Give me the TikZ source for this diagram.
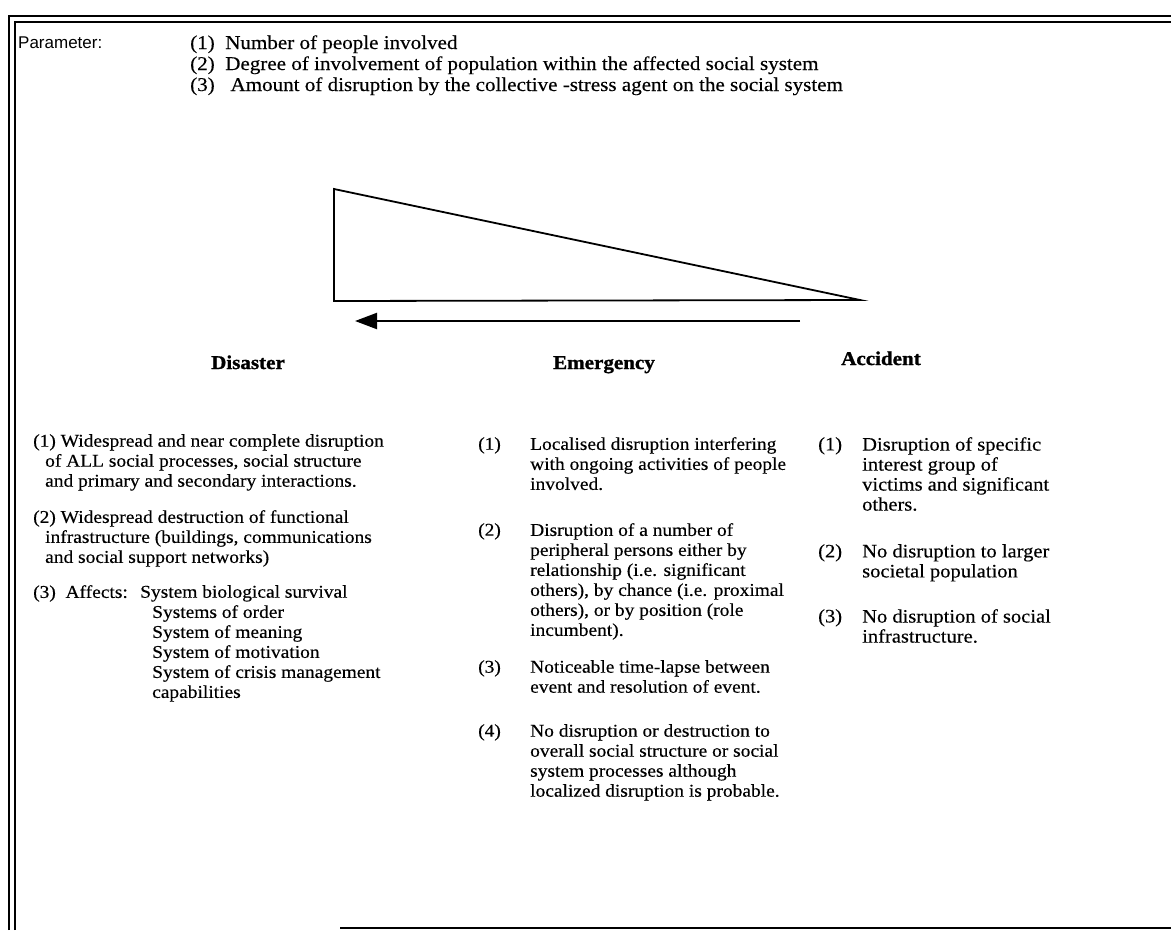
\documentclass[tikz,border=0pt]{standalone}
\usepackage{fontspec}
\setmainfont{Liberation Serif}[FakeStretch=1.08, UprightFeatures={FakeBold=0.35}]
\newfontfamily\paramfont{Liberation Sans}
\newfontfamily\lblfont{Liberation Serif}[FakeStretch=1.08, BoldFeatures={FakeBold=1.2}]
\usetikzlibrary{arrows.meta}
\tikzset{
  frameline/.style={line width=2.2pt},
  txt/.style={inner sep=0pt, align=left, font=\fontsize{18}{20}\selectfont},
  txtc/.style={inner sep=0pt, align=left, font=\fontsize{19}{20}\selectfont},
  toptxt/.style={inner sep=0pt, anchor=base west, font=\fontsize{19.5}{21}\selectfont},
  lbl/.style={inner sep=0pt, anchor=base, font=\lblfont\fontsize{19.5}{20}\selectfont\bfseries},
  tri/.style={line width=1.8pt, line join=miter},
  scalearrow/.style={line width=2.2pt, -{Triangle[length=22pt,width=16pt]}}
}
\begin{document}
\begin{tikzpicture}[x=1pt,y=-1pt]
\useasboundingbox (0,0) rectangle (1171,930);
% frame
\draw[frameline] (9,930) -- (9,16) -- (1171,16);
\draw[frameline] (15,930) -- (15,22) -- (1171,22);
\draw[line width=2.4pt] (340,928) -- (1171,928);

% parameters
\node[inner sep=0pt, anchor=base west, font=\paramfont\fontsize{17}{20}\selectfont] (param) at (18,48) {Parameter:};
\node[toptxt] (p1) at (190,49) {(1)\ \ Number of people involved};
\node[toptxt] (p2) at (190,70) {(2)\ \ Degree of involvement of population within the affected social system};
\node[toptxt] (p3) at (190,91) {(3)\ \ \ Amount of disruption by the collective -stress agent on the social system};

% triangle
\coordinate (tl) at (334,189);
\coordinate (bl) at (334,301);
\coordinate (tip) at (860,300);
\draw[tri] (tl) -- (tip) -- (bl) -- cycle;

% arrow
\coordinate (astart) at (800,321);
\coordinate (aend) at (355,321);
\draw[scalearrow] (astart) -- (aend);

% labels
\node[lbl] (dis) at (248,369) {Disaster};
\node[lbl] (emg) at (604,369) {Emergency};
\node[lbl] (acc) at (881,365) {Accident};

% column 1: disaster
\node[txt, anchor=north west] (d1) at (33,434) {(1) Widespread and near complete disruption\\
\hspace*{12pt}of ALL social processes, social structure\\
\hspace*{12pt}and primary and secondary interactions.};
\node[txt, anchor=north west] (d2) at (33,510) {(2) Widespread destruction of functional\\
\hspace*{12pt}infrastructure (buildings, communications\\
\hspace*{12pt}and social support networks)};
\node[txt, anchor=north west] (d3) at (33,585) {(3)\ \ Affects:};
\node[txt, anchor=north west] (d3a) at (140,585) {System biological survival};
\node[txt, anchor=north west] (d3b) at (152,605) {Systems of order\\
System of meaning\\
System of motivation\\
System of crisis management\\
capabilities};

% column 2: emergency
\node[txt, anchor=north west] (e1n) at (478,437) {(1)};
\node[txt, anchor=north west] (e1) at (530,437) {Localised disruption interfering\\
with ongoing activities of people\\
involved.};
\node[txt, anchor=north west] (e2n) at (478,523) {(2)};
\node[txt, anchor=north west] (e2) at (530,523) {Disruption of a number of\\
peripheral persons either by\\
relationship (i.e. significant\\
others), by chance (i.e. proximal\\
others), or by position (role\\
incumbent).};
\node[txt, anchor=north west] (e3n) at (478,660) {(3)};
\node[txt, anchor=north west] (e3) at (530,660) {Noticeable time-lapse between\\
event and resolution of event.};
\node[txt, anchor=north west] (e4n) at (478,724) {(4)};
\node[txt, anchor=north west] (e4) at (530,724) {No disruption or destruction to\\
overall social structure or social\\
system processes although\\
localized disruption is probable.};

% column 3: accident
\node[txtc, anchor=north west] (a1n) at (818,437) {(1)};
\node[txtc, anchor=north west] (a1) at (862,437) {Disruption of specific\\
interest group of\\
victims and significant\\
others.};
\node[txtc, anchor=north west] (a2n) at (818,544) {(2)};
\node[txtc, anchor=north west] (a2) at (862,544) {No disruption to larger\\
societal population};
\node[txtc, anchor=north west] (a3n) at (818,609) {(3)};
\node[txtc, anchor=north west] (a3) at (862,609) {No disruption of social\\
infrastructure.};
\end{tikzpicture}
\end{document}
